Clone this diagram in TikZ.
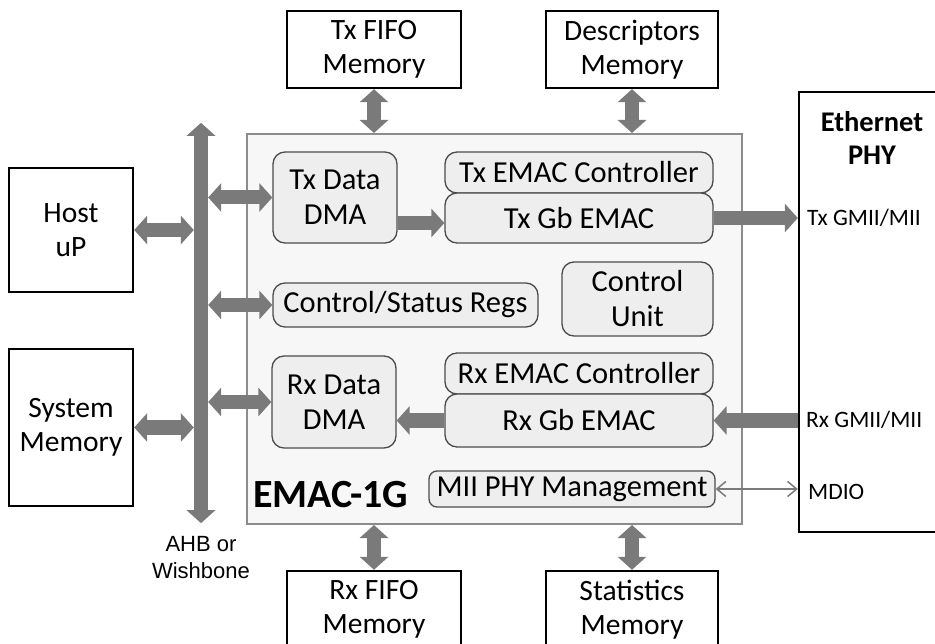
\documentclass[tikz,border=0pt]{standalone}
\usepackage{fontspec}
\setmainfont{Carlito}
\newfontfamily\arialfont{Liberation Sans}
\usepackage{xcolor}
\usepackage{tikz}
\usetikzlibrary{arrows.meta,calc}
\definecolor{arrowgray}{HTML}{7A7A7A}
\definecolor{blockfill}{HTML}{EEEEEE}
\definecolor{emacfill}{HTML}{F7F7F7}
\definecolor{emacborder}{HTML}{8C8C8C}

\begin{document}
\begin{tikzpicture}[x=1pt,y=-1pt,
    membox/.style={draw=black,line width=2.4pt,fill=white,align=center,inner sep=0pt,font=\fontsize{29.5}{34}\selectfont},
    subblock/.style={draw=black!70,line width=1.3pt,fill=blockfill,rounded corners=12pt,align=center,inner sep=0pt,font=\fontsize{30.5}{35}\selectfont},
    sidelabel/.style={anchor=base west,inner sep=0pt,font=\fontsize{23.5}{24}\selectfont},
    busarrow/.style={draw=arrowgray,line width=14pt,>={Triangle[length=13pt,width=28pt]}},
    thinarrow/.style={draw=arrowgray,line width=1.5pt,>={Straight Barb[length=9pt,width=15pt]}}]
    \useasboundingbox (0,0) rectangle (935,644);

    % Memories
    \node[membox,minimum width=174pt,minimum height=77pt] (txfifo) at (374,49.5) {Tx FIFO\\Memory};
    \node[membox,minimum width=172pt,minimum height=77pt] (descmem) at (632,49.5) {Descriptors\\Memory};
    \node[membox,minimum width=174pt,minimum height=77pt] (rxfifo) at (374,609.5) {Rx FIFO\\Memory};
    \node[membox,minimum width=172pt,minimum height=77pt] (statmem) at (632,609.5) {Statistics\\Memory};
    \node[membox,minimum width=124pt,minimum height=124pt] (host) at (71,230) {Host\\uP};
    \node[membox,minimum width=124pt,minimum height=157pt] (sysmem) at (71,427.5) {System\\Memory};

    % PHY
    \node[membox,minimum width=146pt,minimum height=440pt] (phy) at (872,312) {};
    \node[font=\bfseries\fontsize{28.5}{33}\selectfont,align=center] (phylbl) at (872,138) {Ethernet\\PHY};
    \node[sidelabel] (txmii) at (807,226) {Tx GMII/MII};
    \node[sidelabel] (rxmii) at (806,428) {Rx GMII/MII};
    \node[sidelabel] (mdio) at (808,499) {MDIO};

    % EMAC-1G core
    \node[draw=emacborder,line width=2pt,fill=emacfill,minimum width=495pt,minimum height=390pt] (emac) at (494.5,329) {};
    \node[anchor=base west,inner sep=0pt,font=\bfseries\fontsize{40}{40}\selectfont] (emaclbl) at (253,507) {EMAC-1G};
    \node[subblock,minimum width=124pt,minimum height=91pt] (txdma) at (335,197.5) {Tx Data\\DMA};
    \node[subblock,minimum width=268pt,minimum height=41pt] (txctrl) at (579,172.5) {Tx EMAC Controller};
    \node[subblock,minimum width=268pt,minimum height=50pt] (txgb) at (579,218) {Tx Gb EMAC};
    \node[subblock,minimum width=265pt,minimum height=44pt] (csr) at (405.5,305) {Control/Status Regs};
    \node[subblock,minimum width=151pt,minimum height=74pt] (cu) at (637.5,299) {Control\\Unit};
    \node[subblock,minimum width=124pt,minimum height=92pt] (rxdma) at (334,402) {Rx Data\\DMA};
    \node[subblock,minimum width=268pt,minimum height=41pt] (rxctrl) at (579,373.5) {Rx EMAC Controller};
    \node[subblock,minimum width=268pt,minimum height=53pt] (rxgb) at (579,420.5) {Rx Gb EMAC};
    \node[subblock,minimum width=286pt,minimum height=36pt,rounded corners=8pt] (mii) at (572,489) {MII PHY Management};

    % Bus
    \node[inner sep=0pt,minimum width=14pt,minimum height=400pt] (bus) at (201,323) {};
    \draw[busarrow,<->] (bus.north) -- (bus.south);
    \node[font=\arialfont\fontsize{22}{27}\selectfont,align=center] (buslbl) at (201,558) {AHB or\\Wishbone};
    \draw[busarrow,<->] (host.east) -- (host.east -| bus.west);
    \draw[busarrow,<->] (sysmem.east) -- (sysmem.east -| bus.west);
    \draw[busarrow,<->] (bus.east |- txdma.west) -- (txdma.west);
    \draw[busarrow,<->] (bus.east |- csr.west) -- (csr.west);
    \draw[busarrow,<->] (bus.east |- rxdma.west) -- (rxdma.west);

    % Memory ports
    \draw[busarrow,<->] (txfifo.south) -- (txfifo.south |- emac.north);
    \draw[busarrow,<->] (descmem.south) -- (descmem.south |- emac.north);
    \draw[busarrow,<->] (rxfifo.north) -- (rxfifo.north |- emac.south);
    \draw[busarrow,<->] (statmem.north) -- (statmem.north |- emac.south);

    % Data paths
    \draw[busarrow,->] ($(txdma.east |- txgb.west)+(0,5)$) -- ($(txgb.west)+(0,5)$);
    \draw[busarrow,->] (txgb.east) -- (txgb.east -| phy.west);
    \draw[busarrow,->] (rxgb.east -| phy.west) -- (rxgb.east);
    \draw[busarrow,->] (rxgb.west) -- (rxgb.west -| rxdma.east);
    \draw[thinarrow,<->] (mii.east) -- (mii.east -| phy.west);
\end{tikzpicture}
\end{document}
